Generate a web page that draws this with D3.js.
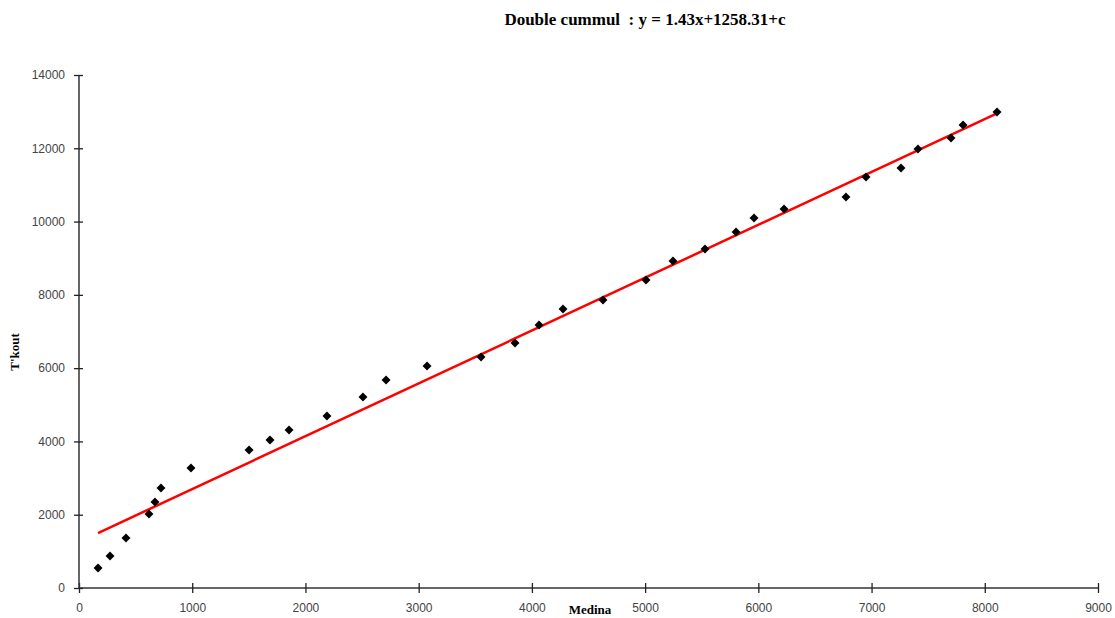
<!DOCTYPE html>
<html><head><meta charset="utf-8">
<script src="https://cdn.jsdelivr.net/npm/d3@7"></script>
<style>body{margin:0;background:#fff}svg{display:block}</style>
</head><body>
<script>
const medina = [168,274,415,618,671,724,989,1502,1687,1855,2190,2508,2712,3074,3551,3851,4063,4275,4628,5008,5246,5529,5803,5962,6227,6774,6951,7260,7410,7702,7808,8108];
const tkout = [546,873,1365,2020,2347,2729,3275,3766,4039,4312,4694,5212,5676,6058,6304,6686,7177,7614,7860,8405,8924,9251,9715,10097,10343,10670,11216,11462,11980,12281,12635,12990];
const trendX = [168, 8108];
const trendY = [1500, 12950];
const xTicks = [0,1000,2000,3000,4000,5000,6000,7000,8000,9000];
const yTicks = [0,2000,4000,6000,8000,10000,12000,14000];
const title = "Double cummul  : y = 1.43x+1258.31+c";

const W=1115,H=618;
const svg=d3.select("body").append("svg").attr("width",W).attr("height",H);
const x=d3.scaleLinear().domain([0,9000]).range([79,1098]);
const y=d3.scaleLinear().domain([0,14000]).range([588,75]);
const fmt=d3.format("d");

const ax=svg.append("g").attr("transform","translate(0,588)")
  .call(d3.axisBottom(x).tickValues(xTicks).tickFormat(fmt).tickSizeInner(5).tickSizeOuter(0).tickPadding(10));
ax.selectAll(".tick line").attr("y1",-5).attr("y2",5);
const ay=svg.append("g").attr("transform","translate(79,0)")
  .call(d3.axisLeft(y).tickValues(yTicks).tickFormat(fmt).tickSizeInner(5).tickSizeOuter(0).tickPadding(9));
ay.selectAll(".tick line").attr("x1",-5).attr("x2",4);
[ax,ay].forEach(a=>{
  a.select(".domain").attr("stroke","#333").attr("stroke-width",1.5);
  a.selectAll(".tick line").attr("stroke","#222").attr("stroke-width",1.3);
  a.selectAll("text").attr("font-family","Liberation Sans, Arial").attr("font-size",12).attr("fill","#444");
});
ax.select(".domain").attr("d","M79,0H1098");
ay.select(".domain").attr("d","M0,588V75");

svg.append("path")
  .datum(trendX.map((v,i)=>[v,trendY[i]]))
  .attr("d",d3.line().x(d=>x(d[0])).y(d=>y(d[1])))
  .attr("stroke","#ff0000").attr("stroke-width",2.5).attr("fill","none");

svg.append("g").selectAll("path").data(medina.map((v,i)=>[v,tkout[i]])).join("path")
  .attr("d",d3.symbol().type(d3.symbolSquare).size(40))
  .attr("transform",d=>`translate(${x(d[0])},${y(d[1])}) rotate(45)`)
  .attr("fill","#000");

svg.append("text").attr("x",645).attr("y",25).attr("text-anchor","middle")
  .attr("font-family","Liberation Serif, Times New Roman").attr("font-weight","bold").attr("font-size",17)
  .style("white-space","pre").text(title);
svg.append("text").attr("x",590).attr("y",614).attr("text-anchor","middle")
  .attr("font-family","Liberation Serif, Times New Roman").attr("font-weight","bold").attr("font-size",13)
  .text("Medina");
svg.append("text").attr("transform","translate(19,352) rotate(-90)").attr("text-anchor","middle")
  .attr("font-family","Liberation Serif, Times New Roman").attr("font-weight","bold").attr("font-size",13)
  .text("T'kout");
</script>
</body></html>
